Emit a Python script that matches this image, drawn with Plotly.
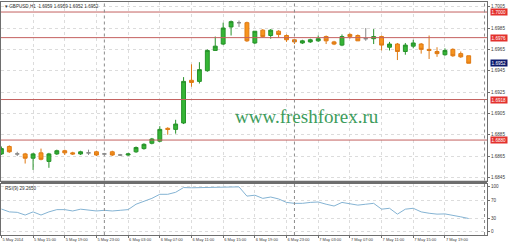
import plotly.graph_objects as go
import pandas as pd

# ---------------- data ----------------
title_text = "GBPUSD,H1  1.6959 1.6959 1.6952 1.6952"
start_time = "2014-05-05 11:00"

open_ = [1.6867, 1.6874, 1.6867, 1.6867, 1.6863, 1.6868, 1.6860, 1.6867, 1.6870, 1.6868,
         1.6867, 1.6868, 1.6869, 1.6867, 1.6869, 1.6866, 1.6866, 1.6869, 1.6872, 1.6877,
         1.6879, 1.6891, 1.6890, 1.6896, 1.6936, 1.6935, 1.6945, 1.6964, 1.6970, 1.6986,
         1.6990, 1.6990, 1.6971, 1.6983, 1.6978, 1.6982, 1.6978, 1.6974, 1.6971, 1.6972,
         1.6973, 1.6977, 1.6972, 1.6969, 1.6979, 1.6978, 1.6975, 1.6975, 1.6977, 1.6967,
         1.6970, 1.6963, 1.6968, 1.6970, 1.6965, 1.6963, 1.6960, 1.6965, 1.6961, 1.6959]
high = [1.6874, 1.6875, 1.6869, 1.6868, 1.6868, 1.6872, 1.6868, 1.6871, 1.6871, 1.6869,
        1.6870, 1.6871, 1.6870, 1.6868, 1.6870, 1.6867, 1.6868, 1.6874, 1.6877, 1.6882,
        1.6893, 1.6892, 1.6899, 1.6939, 1.6951, 1.6953, 1.6965, 1.6977, 1.6990, 1.6992,
        1.6992, 1.6991, 1.6982, 1.6984, 1.6984, 1.6983, 1.6979, 1.6975, 1.6974, 1.6975,
        1.6978, 1.6978, 1.6973, 1.6979, 1.6980, 1.6979, 1.6985, 1.6984, 1.6978, 1.6972,
        1.6971, 1.6971, 1.6974, 1.6971, 1.6978, 1.6967, 1.6966, 1.6966, 1.6963, 1.6959]
low = [1.6866, 1.6868, 1.6865, 1.6858, 1.6852, 1.6861, 1.6854, 1.6866, 1.6866, 1.6866,
       1.6866, 1.6866, 1.6865, 1.6866, 1.6865, 1.6865, 1.6865, 1.6868, 1.6871, 1.6876,
       1.6878, 1.6885, 1.6886, 1.6895, 1.6930, 1.6933, 1.6944, 1.6964, 1.6969, 1.6978,
       1.6986, 1.6972, 1.6970, 1.6976, 1.6975, 1.6976, 1.6972, 1.6970, 1.6970, 1.6971,
       1.6972, 1.6970, 1.6969, 1.6968, 1.6975, 1.6973, 1.6973, 1.6970, 1.6964, 1.6964,
       1.6955, 1.6960, 1.6966, 1.6961, 1.6956, 1.6958, 1.6959, 1.6958, 1.6957, 1.6952]
close = [1.6872, 1.6869, 1.6867, 1.6863, 1.6867, 1.6862, 1.6867, 1.6870, 1.6868, 1.6867,
         1.6869, 1.6868, 1.6866, 1.6867, 1.6866, 1.6866, 1.6867, 1.6873, 1.6876, 1.6881,
         1.6890, 1.6890, 1.6895, 1.6935, 1.6934, 1.6946, 1.6964, 1.6968, 1.6985, 1.6991,
         1.6990, 1.6973, 1.6982, 1.6977, 1.6983, 1.6979, 1.6974, 1.6972, 1.6973, 1.6974,
         1.6975, 1.6973, 1.6970, 1.6977, 1.6977, 1.6973, 1.6975, 1.6977, 1.6969, 1.6970,
         1.6963, 1.6969, 1.6971, 1.6965, 1.6964, 1.6961, 1.6964, 1.6959, 1.6958, 1.6952]
rsi = [50.4, 44, 43, 37, 44, 37, 44, 49, 49, 46,
       50, 47.5, 46, 47.5, 46, 47.5, 49, 61, 67, 74,
       83, 83, 87.5, 98, 97.5, 98, 98.5, 99, 99.5, 99.6,
       99.5, 79, 81, 74, 77, 72.7, 65, 63, 63, 65,
       66, 61, 57, 65, 62, 59, 61, 63, 50, 52,
       39, 50, 52, 44, 41, 39, 39.5, 37, 33, 29.265]

level_lines = [1.7000, 1.6976, 1.6918, 1.6880]
last_price = 1.6952
price_ticks = [1.7005, 1.6985, 1.6965, 1.6945, 1.6925, 1.6905, 1.6885, 1.6865, 1.6845]
rsi_ticks = [100, 70, 30, 0]
rsi_label = "RSI(9) 29.2650"
watermark = "www.freshforex.ru"

# ---------------- derived ----------------
n = len(close)
times = pd.date_range(start_time, periods=n + 2, freq="h")
xs = list(range(n))
tick_idx = [i for i in range(n) if i % 4 == 0]
tick_txt = ["5 May 2014" if i == 0 else f"{times[i].day} May {times[i]:%H:%M}" for i in tick_idx]
sep_idx = [i for i in range(n + 2) if times[i].hour == 0]

groups = {"up": [], "down": [], "doji": []}
for i in xs:
    d = round(close[i] - open_[i], 6)
    groups["up" if d > 0 else ("down" if d < 0 else "doji")].append(i)

styles = {
    "up": ("#35b535", "#27922a"),
    "down": ("#f7941d", "#df7a14"),
    "doji": ("#8a8a8a", "#8a8a8a"),
}

fig = go.Figure()
for g, idx in groups.items():
    fill, line = styles[g]
    fig.add_trace(go.Candlestick(
        x=idx,
        open=[open_[i] for i in idx], high=[high[i] for i in idx],
        low=[low[i] for i in idx], close=[close[i] for i in idx],
        increasing=dict(fillcolor=fill, line=dict(color=line, width=1)),
        decreasing=dict(fillcolor=fill, line=dict(color=line, width=1)),
        xaxis="x", yaxis="y", showlegend=False, hoverinfo="skip",
    ))

fig.add_trace(go.Scatter(x=xs, y=rsi, mode="lines", line=dict(color="#84b3d3", width=1),
                         xaxis="x2", yaxis="y2", showlegend=False, hoverinfo="skip"))

# layout geometry (pixels): plot area x 1..487, y 2..235
H_TOP, H_BOT = 2, 235
def pf(py):
    return (H_BOT - py) / (H_BOT - H_TOP)

x_range = [-0.05, 61.31]
grid = dict(showgrid=True, gridcolor="#dcdcdc", griddash="dot", gridwidth=1)
axline = dict(showline=True, linecolor="#6e6e6e", linewidth=1, mirror=True)

fig.update_layout(
    width=510, height=244,
    margin=dict(l=1, r=23, t=H_TOP, b=244 - H_BOT, autoexpand=False),
    paper_bgcolor="white", plot_bgcolor="white",
    font=dict(family="Liberation Sans, Arial, sans-serif", color="#3a3a3a", size=5),
    xaxis=dict(domain=[0, 1], range=x_range, tickvals=tick_idx, showticklabels=False,
               ticks="", rangeslider=dict(visible=False), anchor="y", automargin=False,
               **grid, **axline, zeroline=False),
    yaxis=dict(domain=[pf(180.5), 1], range=[1.68421, 1.70094], side="right",
               tickvals=price_ticks, ticktext=[f"{v:.4f}" for v in price_ticks],
               ticks="outside", ticklen=2, tickcolor="#6e6e6e", tickfont=dict(size=4.6),
               anchor="x", automargin=False, **grid, **axline, zeroline=False),
    xaxis2=dict(domain=[0, 1], range=x_range, tickvals=tick_idx, ticktext=tick_txt,
                ticks="outside", ticklen=2, tickcolor="#6e6e6e", tickfont=dict(size=4),
                tickangle=0, ticklabelposition="outside right", anchor="y2", automargin=False,
                **grid, **axline, zeroline=False),
    yaxis2=dict(domain=[0, pf(183.5)], range=[-7.3, 107], side="right", tickvals=rsi_ticks,
                ticks="outside", ticklen=2, tickcolor="#6e6e6e", tickfont=dict(size=4.6),
                anchor="x2", automargin=False, **grid, **axline, zeroline=False),
)

shapes = []
for lv in level_lines:
    shapes.append(dict(type="line", xref="x domain", yref="y", x0=0, x1=1, y0=lv, y1=lv,
                       line=dict(color="#c4615f", width=1)))
for s in sep_idx:
    for xr, yr in (("x", "y domain"), ("x2", "y2 domain")):
        shapes.append(dict(type="line", xref=xr, yref=yr, x0=s, x1=s, y0=0, y1=1,
                           line=dict(color="#8c8c8c", width=1, dash="dot")))
# panel separator bar
shapes.append(dict(type="rect", xref="paper", yref="paper", x0=0, x1=1,
                   y0=pf(183.3), y1=pf(180.7), fillcolor="#6e6e6e", line=dict(width=0)))
fig.update_layout(shapes=shapes)

ann = []
for lv in level_lines:
    ann.append(dict(xref="paper", yref="y", x=1, y=lv, xanchor="left", xshift=3,
                    text=f"{lv:.4f}", showarrow=False, bgcolor="#e3312d",
                    font=dict(color="white", size=4.6), borderpad=0.6))
ann.append(dict(xref="paper", yref="y", x=1, y=last_price, xanchor="left", xshift=3,
                text=f"{last_price:.4f}", showarrow=False, bgcolor="#0d1a6e",
                font=dict(color="white", size=4.6), borderpad=0.6))
ann.append(dict(xref="paper", yref="paper", x=0.005, y=pf(6), xanchor="left", yanchor="middle",
                text="▾ " + title_text, showarrow=False, font=dict(size=4.6, color="#303030")))
ann.append(dict(xref="paper", yref="paper", x=0.004, y=pf(188.5), xanchor="left", yanchor="middle",
                text=rsi_label, showarrow=False, font=dict(size=4.6, color="#303030")))
ann.append(dict(xref="paper", yref="paper", x=(307 - 1) / 486, y=pf(116), xanchor="center",
                yanchor="middle", text=watermark, showarrow=False,
                font=dict(family="Liberation Serif, Times New Roman, serif", size=19, color="#3d9c5c")))
fig.update_layout(annotations=ann)

fig.write_html("out.html")
